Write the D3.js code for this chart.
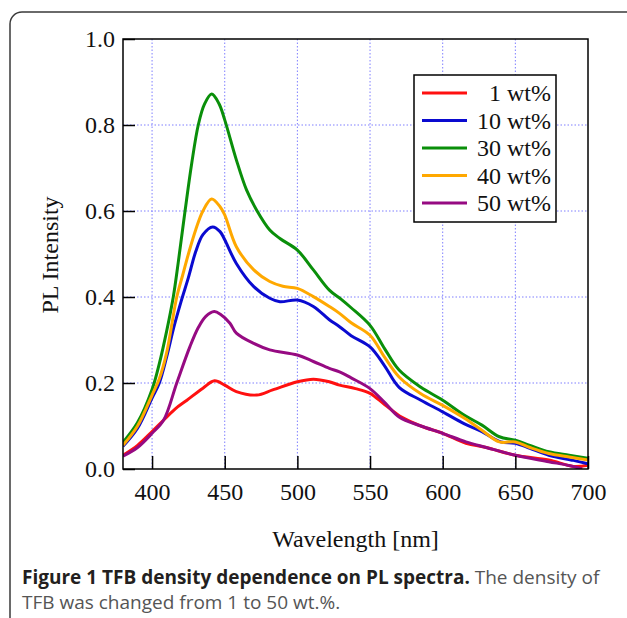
<!DOCTYPE html>
<html>
<head>
<meta charset="utf-8">
<title>TFB density dependence on PL spectra</title>
<script src="https://cdn.jsdelivr.net/npm/d3@7"></script>
<style>
  body { margin: 0; background: #fff; }
</style>
</head>
<body>
<script>
// ---- data ----
var seriesNames = ["1 wt%", "10 wt%", "30 wt%", "40 wt%", "50 wt%"];
var seriesColors = ["#ff1010", "#0a0ad0", "#0a8f0a", "#ffa800", "#960a82"];

var red1 = [[380,0.032],[390,0.055],[400,0.087],[408,0.114],[416,0.14],[424,0.16],[435,0.188],[443,0.205],[450,0.195],[458,0.18],[472,0.172],[483,0.184],[500,0.203],[511,0.209],[522,0.203],[529,0.195],[540,0.187],[550,0.176],[560,0.15],[572,0.12],[585,0.1],[600,0.083],[616,0.06],[630,0.05],[650,0.032],[673,0.021],[690,0.006],[700,0.009]];
var blue10 = [[380,0.053],[390,0.095],[400,0.165],[405,0.2],[410,0.26],[415,0.33],[420,0.39],[425,0.445],[430,0.505],[435,0.545],[441.7,0.563],[446.8,0.552],[450,0.533],[458,0.478],[470,0.424],[481,0.397],[488,0.389],[500,0.393],[511,0.378],[522,0.347],[529,0.331],[537,0.31],[550,0.284],[560,0.24],[570,0.19],[585,0.16],[600,0.133],[615,0.105],[627,0.087],[640,0.063],[650,0.06],[660,0.048],[673,0.032],[690,0.02],[700,0.012]];
var green30 = [[380,0.062],[390,0.108],[400,0.185],[405,0.245],[410,0.32],[414.6,0.4],[418,0.48],[422.7,0.6],[427.3,0.711],[431.8,0.8],[436,0.848],[441,0.872],[446,0.85],[450,0.812],[458,0.719],[465,0.649],[472,0.602],[481,0.556],[488,0.536],[500,0.509],[511,0.463],[522,0.416],[530,0.395],[537,0.375],[550,0.334],[560,0.28],[570,0.23],[585,0.19],[600,0.16],[615,0.125],[627,0.102],[639,0.075],[650,0.067],[660,0.055],[673,0.04],[687,0.032],[700,0.025]];
var orange40 = [[380,0.055],[390,0.1],[400,0.172],[405,0.21],[410,0.27],[417,0.4],[421,0.45],[425,0.5],[430,0.556],[435,0.6],[441,0.628],[446.8,0.61],[450,0.591],[458,0.517],[470,0.463],[481,0.436],[490,0.425],[500,0.42],[511,0.401],[522,0.378],[529,0.362],[537,0.34],[550,0.311],[560,0.26],[570,0.214],[585,0.175],[600,0.148],[615,0.118],[627,0.09],[639,0.063],[650,0.063],[660,0.05],[673,0.036],[687,0.028],[700,0.021]];
var purple50 = [[380,0.03],[390,0.05],[400,0.083],[408,0.114],[417,0.2],[426,0.284],[432,0.33],[437,0.355],[442.8,0.366],[447,0.36],[453.6,0.339],[458,0.316],[470,0.292],[481,0.277],[500,0.265],[511,0.25],[522,0.234],[529,0.226],[537,0.212],[550,0.187],[560,0.155],[570,0.121],[585,0.1],[600,0.083],[616,0.063],[630,0.05],[650,0.032],[673,0.017],[687,0.008],[696,0.0]];
var allSeries = [red1, blue10, green30, orange40, purple50];

var xTicks = [400, 450, 500, 550, 600, 650, 700];
var yTicks = [0.0, 0.2, 0.4, 0.6, 0.8, 1.0];

var width = 627, height = 618;
var plotLeft = 123, plotRight = 588, plotTop = 39, plotBottom = 469;
var serif = "'Liberation Serif', 'Times New Roman', serif";
var fs = 24;

var svg = d3.select("body").append("svg")
    .attr("width", width)
    .attr("height", height);

// rounded figure frame
svg.append("rect")
    .attr("x", 10).attr("y", 12)
    .attr("width", 700).attr("height", 700)
    .attr("rx", 12)
    .attr("fill", "none")
    .attr("stroke", "#3a3a3a")
    .attr("stroke-width", 1.5);

var x = d3.scaleLinear().domain([380, 700]).range([plotLeft, plotRight]);
var y = d3.scaleLinear().domain([0, 1]).range([plotBottom, plotTop]);

// grid (dotted blue)
svg.append("g").selectAll("line")
    .data(xTicks.filter(d => d < 700))
    .enter().append("line")
    .attr("x1", d => x(d)).attr("x2", d => x(d))
    .attr("y1", plotTop).attr("y2", plotBottom)
    .attr("stroke", "#7f7fff").attr("stroke-width", 1)
    .attr("stroke-dasharray", "1.5,2");
svg.append("g").selectAll("line")
    .data(yTicks.filter(d => d > 0 && d < 1))
    .enter().append("line")
    .attr("x1", plotLeft).attr("x2", plotRight)
    .attr("y1", d => y(d)).attr("y2", d => y(d))
    .attr("stroke", "#7f7fff").attr("stroke-width", 1)
    .attr("stroke-dasharray", "1.5,2");

// curves
var line = d3.line()
    .x(d => x(d[0]))
    .y(d => y(d[1]))
    .curve(d3.curveCatmullRom.alpha(0.5));

svg.append("defs").append("clipPath").attr("id", "clip")
  .append("rect").attr("x", plotLeft).attr("y", plotTop)
  .attr("width", plotRight - plotLeft).attr("height", plotBottom - plotTop);

svg.append("g").attr("clip-path", "url(#clip)")
  .selectAll("path")
  .data(allSeries)
  .enter().append("path")
  .attr("d", line)
  .attr("fill", "none")
  .attr("stroke", (d, i) => seriesColors[i])
  .attr("stroke-width", 3)
  .attr("stroke-linejoin", "round");

// axes with inward ticks
var xAxis = svg.append("g")
    .attr("transform", "translate(0," + plotBottom + ")")
    .call(d3.axisBottom(x).tickValues(xTicks).tickSizeInner(-13).tickSizeOuter(0).tickPadding(14)
        .tickFormat(d3.format("d")));
var yAxis = svg.append("g")
    .attr("transform", "translate(" + plotLeft + ",0)")
    .call(d3.axisLeft(y).tickValues(yTicks).tickSizeInner(-12).tickSizeOuter(0).tickPadding(8)
        .tickFormat(d3.format(".1f")));

[xAxis, yAxis].forEach(function(g) {
  g.select(".domain").remove();
  g.selectAll(".tick line").attr("stroke", "#000").attr("stroke-width", 1.5);
  g.selectAll(".tick text")
    .attr("font-family", serif)
    .attr("font-size", fs)
    .attr("fill", "#111");
});

// plot box
svg.append("rect")
    .attr("x", plotLeft).attr("y", plotTop)
    .attr("width", plotRight - plotLeft).attr("height", plotBottom - plotTop)
    .attr("fill", "none")
    .attr("stroke", "#000")
    .attr("stroke-width", 1.5);

// axis titles
svg.append("text")
    .attr("x", (plotLeft + plotRight) / 2).attr("y", 547)
    .attr("text-anchor", "middle")
    .attr("font-family", serif).attr("font-size", fs).attr("fill", "#111")
    .text("Wavelength [nm]");
svg.append("text")
    .attr("transform", "translate(58," + ((plotTop + plotBottom) / 2 + 1) + ") rotate(-90)")
    .attr("text-anchor", "middle")
    .attr("font-family", serif).attr("font-size", fs).attr("fill", "#111")
    .text("PL Intensity");

// legend
var legend = svg.append("g");
legend.append("rect")
    .attr("x", 414).attr("y", 75)
    .attr("width", 142).attr("height", 147)
    .attr("fill", "#fff")
    .attr("stroke", "#000").attr("stroke-width", 1.5);
var rows = legend.selectAll("g")
    .data(seriesNames)
    .enter().append("g")
    .attr("transform", (d, i) => "translate(0," + (93 + i * 27.5) + ")");
rows.append("line")
    .attr("x1", 422).attr("x2", 467)
    .attr("stroke", (d, i) => seriesColors[i])
    .attr("stroke-width", 3);
rows.append("text")
    .attr("x", 551).attr("y", 8)
    .attr("text-anchor", "end")
    .attr("font-family", serif).attr("font-size", fs).attr("fill", "#111")
    .text(d => d);

// caption
var cap = svg.append("text")
    .attr("font-family", "'Open Sans', 'Noto Sans', sans-serif")
    .attr("font-size", 19);
var l1 = cap.append("tspan").attr("x", 22).attr("y", 584);
l1.append("tspan").attr("font-weight", "bold").attr("fill", "#231f20")
  .text("Figure 1 TFB density dependence on PL spectra.");
l1.append("tspan").attr("fill", "#555").text(" The density of");
cap.append("tspan").attr("x", 22).attr("y", 609).attr("fill", "#555")
  .text("TFB was changed from 1 to 50 wt.%.");
</script>
</body>
</html>
